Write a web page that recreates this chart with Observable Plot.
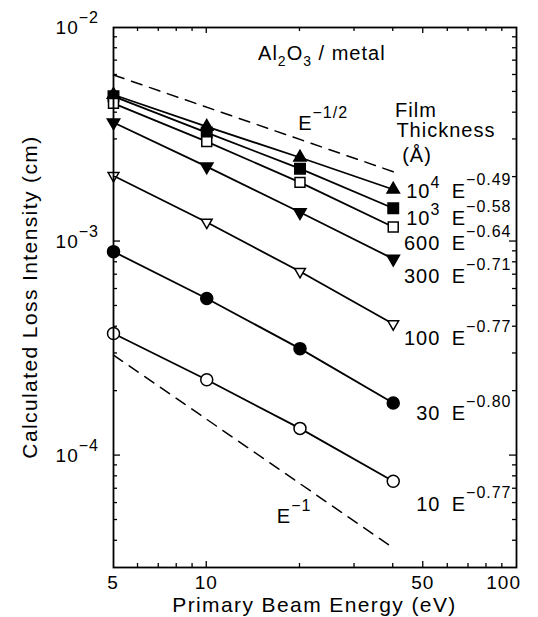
<!DOCTYPE html>
<html><head><meta charset="utf-8">
<script src="https://cdn.jsdelivr.net/npm/d3@7"></script>
<script src="https://cdn.jsdelivr.net/npm/@observablehq/plot@0.6"></script>
<style>
body{margin:0;background:#fff;}
svg{font-family:"Liberation Sans",Arial,Helvetica,sans-serif;}
</style>
</head><body><div id="chart"></div>
<script>
// ---- data ----
const energies = [5, 10, 20, 40];                  // primary beam energy (eV)
const loss1e4 = [4.85e-3, 3.44e-3, 2.47e-3, 1.75e-3];
const loss1e3 = [4.77e-3, 3.23e-3, 2.19e-3, 1.43e-3];
const loss600 = [4.42e-3, 2.93e-3, 1.89e-3, 1.17e-3];
const loss300 = [3.60e-3, 2.24e-3, 1.37e-3, 8.30e-4];
const loss100 = [2.03e-3, 1.23e-3, 7.24e-4, 4.12e-4];
const loss30  = [8.97e-4, 5.42e-4, 3.16e-4, 1.76e-4];
const loss10  = [3.72e-4, 2.26e-4, 1.34e-4, 7.59e-5];

const thicknessBase = ["10", "10", "600", "300", "100", "30", "10"];
const thicknessSup  = ["4", "3", "", "", "", "", ""];
const exponents     = ["−0.49", "−0.58", "−0.64", "−0.71", "−0.77", "−0.80", "−0.77"];
const labelY        = [1.59e-3, 1.19e-3, 9.1e-4, 6.4e-4, 3.26e-4, 1.46e-4, 5.5e-5];
const labelNumX = 57, labelEX = 62;

// reference power-law guide lines
const guideX = [5, 40];
const guideHalfY = [6.0e-3, 2.12e-3];   // E^-1/2
const guideOneY  = [2.95e-4, 3.7e-5];   // E^-1

// axes
const xDomain = [5, 100];
const yDomain = [3e-5, 1e-2];
const xTickLabels = [5, 10, 50, 100];
const xMinorTicks = [6, 7, 8, 9, 10, 20, 30, 40, 50, 60, 70, 80, 90];
const yTickLabels = [1e-2, 1e-3, 1e-4];
const yTickExp = ["−2", "−3", "−4"];
const yMinorTicks = [4e-5,5e-5,6e-5,7e-5,8e-5,9e-5,1e-4,2e-4,3e-4,4e-4,5e-4,6e-4,7e-4,8e-4,9e-4,1e-3,2e-3,3e-3,4e-3,5e-3,6e-3,7e-3,8e-3,9e-3];

// ---- symbols ----
const triangleDown = {
  draw(context, size) {
    const y = -Math.sqrt(size / (Math.sqrt(3) * 3));
    context.moveTo(0, -y * 2);
    context.lineTo(-Math.sqrt(3) * y, y);
    context.lineTo(Math.sqrt(3) * y, y);
    context.closePath();
  }
};
const seriesList = [
  {values: loss1e4, symbol: "triangle", fill: "black", r: 4.6},
  {values: loss1e3, symbol: "square", fill: "black", r: 5.9},
  {values: loss600, symbol: "square", fill: "white", r: 5.6},
  {values: loss300, symbol: triangleDown, fill: "black", r: 4.6},
  {values: loss100, symbol: triangleDown, fill: "white", r: 4.0},
  {values: loss30, symbol: "circle", fill: "black", r: 6},
  {values: loss10, symbol: "circle", fill: "white", r: 6}
];

function rich(parent, px, py, parts, anchor, extra) {
  const t = parent.append("text").attr("x", px).attr("y", py)
    .attr("text-anchor", anchor || "start").attr("fill", "black");
  if (extra) extra(t);
  let cur = 0;
  for (const p of parts) {
    const s = p.shift || 0;
    const ts = t.append("tspan").text(p.t).attr("font-size", p.size || 20);
    if (s !== cur) ts.attr("dy", s - cur);
    if (p.ls != null) ts.attr("letter-spacing", p.ls);
    cur = s;
  }
  return t;
}

function decorations(index, scales, values, dimensions) {
  const x = scales.x, y = scales.y;
  const {width, height, marginLeft, marginRight, marginTop, marginBottom} = dimensions;
  const L = marginLeft, R = width - marginRight, T = marginTop, B = height - marginBottom;
  const g = d3.create("svg:g");
  const tk = g.append("g").attr("stroke", "black").attr("stroke-width", 1.3);
  for (const v of xMinorTicks) {
    const len = (v === 10 || v === 50) ? 6 : 4;
    tk.append("line").attr("x1", x(v)).attr("x2", x(v)).attr("y1", B).attr("y2", B - len);
    tk.append("line").attr("x1", x(v)).attr("x2", x(v)).attr("y1", T).attr("y2", T + len);
  }
  for (const v of yMinorTicks) {
    const len = (v === 1e-3 || v === 1e-4) ? 7 : 4;
    tk.append("line").attr("y1", y(v)).attr("y2", y(v)).attr("x1", L).attr("x2", L + len);
    tk.append("line").attr("y1", y(v)).attr("y2", y(v)).attr("x1", R).attr("x2", R - len);
  }
  const tx = g.append("g").attr("letter-spacing", 1);
  xTickLabels.forEach((v, i) => {
    const last = i === xTickLabels.length - 1;
    rich(tx, x(v) + (last ? 5 : 0), B + 22, [{t: String(v), size: 19}], last ? "end" : "middle");
  });
  yTickLabels.forEach((v, i) => {
    rich(tx, L - 14, y(v) + 7, [{t: "10", size: 19}, {t: yTickExp[i], size: 16, shift: -11}], "end");
  });
  // axis titles
  rich(tx, (L + R) / 2, height - 5, [{t: "Primary Beam Energy (eV)", size: 21, ls: 1.4}], "middle");
  rich(tx, 0, 0, [{t: "Calculated Loss Intensity (cm)", size: 21, ls: 1.4}], "middle",
    t => t.attr("transform", `translate(37,${(T + B) / 2}) rotate(-90)`).attr("x", null).attr("y", null));
  // annotations
  rich(tx, x(14.7), y(7.0e-3), [
    {t: "Al", size: 20}, {t: "2", size: 14, shift: 6}, {t: "O", size: 20}, {t: "3", size: 14, shift: 6},
    {t: " / metal", size: 20}], "start");
  rich(tx, x(19.8), y(3.3e-3), [{t: "E", size: 20}, {t: "−1/2", size: 16, shift: -12}], "start");
  rich(tx, x(16.9), y(4.8e-5), [{t: "E", size: 20}, {t: "−1", size: 16, shift: -12}], "start");
  rich(tx, x(40.7), y(3.79e-3), [{t: "Film", size: 20}], "start");
  rich(tx, x(41.1), y(3.06e-3), [{t: "Thickness", size: 20}], "start");
  rich(tx, x(42.9), y(2.34e-3), [{t: "(Å)", size: 20}], "start");
  thicknessBase.forEach((b, i) => {
    const parts = [{t: b, size: 20}];
    if (thicknessSup[i]) parts.push({t: thicknessSup[i], size: 16, shift: -10});
    rich(tx, x(labelNumX), y(labelY[i]), parts, "end");
    rich(tx, x(labelEX), y(labelY[i]), [{t: "E", size: 20}, {t: exponents[i], size: 16, shift: -13}], "start");
  });
  return g.node();
}

const marks = [
  Plot.line(guideX.map((e, i) => ({e, v: guideHalfY[i]})), {x: "e", y: "v", stroke: "black", strokeWidth: 1.5, strokeDasharray: "11,8"}),
  Plot.line(guideX.map((e, i) => ({e, v: guideOneY[i]})), {x: "e", y: "v", stroke: "black", strokeWidth: 1.5, strokeDasharray: "11,8"})
];
for (const s of seriesList) {
  const rows = energies.map((e, i) => ({e, v: s.values[i]}));
  marks.push(Plot.line(rows, {x: "e", y: "v", stroke: "black", strokeWidth: 1.8}));
}
for (const s of seriesList) {
  const rows = energies.map((e, i) => ({e, v: s.values[i]}));
  marks.push(Plot.dot(rows, {x: "e", y: "v", symbol: s.symbol, fill: s.fill, stroke: "black", strokeWidth: 1.5, r: s.r}));
}
marks.push(Plot.frame({stroke: "black", strokeWidth: 1.8}));
marks.push(decorations);

const chart = Plot.plot({
  width: 538,
  height: 617,
  marginLeft: 113,
  marginRight: 22,
  marginTop: 27,
  marginBottom: 50,
  x: {type: "log", domain: xDomain, axis: null},
  y: {type: "log", domain: yDomain, axis: null},
  style: {background: "white", color: "black", fontFamily: "'Liberation Sans', Arial, sans-serif"},
  marks
});
document.getElementById("chart").appendChild(chart);
</script>
</body></html>
